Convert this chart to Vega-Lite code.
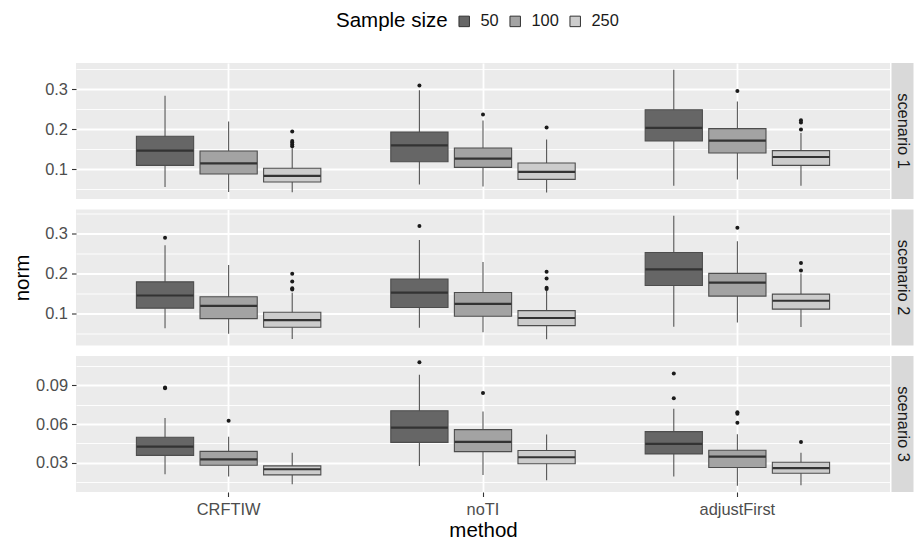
{
  "$schema": "https://vega.github.io/schema/vega-lite/v6.json",
  "padding": {"left": 12, "right": 0, "top": 13, "bottom": 0},
  "datasets": {
    "boxes": [
      {"scenario": "scenario 1", "method": "CRFTIW", "size": "50", "lo": 0.055, "q1": 0.109, "med": 0.146, "q3": 0.182, "hi": 0.283},
      {"scenario": "scenario 1", "method": "CRFTIW", "size": "100", "lo": 0.0425, "q1": 0.0875, "med": 0.114, "q3": 0.145, "hi": 0.219},
      {"scenario": "scenario 1", "method": "CRFTIW", "size": "250", "lo": 0.042, "q1": 0.0675, "med": 0.083, "q3": 0.102, "hi": 0.152},
      {"scenario": "scenario 1", "method": "noTI", "size": "50", "lo": 0.061, "q1": 0.118, "med": 0.159, "q3": 0.1925, "hi": 0.297},
      {"scenario": "scenario 1", "method": "noTI", "size": "100", "lo": 0.056, "q1": 0.104, "med": 0.126, "q3": 0.1525, "hi": 0.221},
      {"scenario": "scenario 1", "method": "noTI", "size": "250", "lo": 0.041, "q1": 0.074, "med": 0.093, "q3": 0.115, "hi": 0.174},
      {"scenario": "scenario 1", "method": "adjustFirst", "size": "50", "lo": 0.058, "q1": 0.17, "med": 0.203, "q3": 0.248, "hi": 0.348},
      {"scenario": "scenario 1", "method": "adjustFirst", "size": "100", "lo": 0.074, "q1": 0.14, "med": 0.171, "q3": 0.201, "hi": 0.269},
      {"scenario": "scenario 1", "method": "adjustFirst", "size": "250", "lo": 0.058, "q1": 0.109, "med": 0.13, "q3": 0.146, "hi": 0.19},
      {"scenario": "scenario 2", "method": "CRFTIW", "size": "50", "lo": 0.0635, "q1": 0.1135, "med": 0.145, "q3": 0.179, "hi": 0.27},
      {"scenario": "scenario 2", "method": "CRFTIW", "size": "100", "lo": 0.05, "q1": 0.0875, "med": 0.119, "q3": 0.142, "hi": 0.221},
      {"scenario": "scenario 2", "method": "CRFTIW", "size": "250", "lo": 0.037, "q1": 0.066, "med": 0.0835, "q3": 0.1035, "hi": 0.152},
      {"scenario": "scenario 2", "method": "noTI", "size": "50", "lo": 0.065, "q1": 0.115, "med": 0.152, "q3": 0.186, "hi": 0.283},
      {"scenario": "scenario 2", "method": "noTI", "size": "100", "lo": 0.0535, "q1": 0.0935, "med": 0.124, "q3": 0.1525, "hi": 0.2285},
      {"scenario": "scenario 2", "method": "noTI", "size": "250", "lo": 0.036, "q1": 0.07, "med": 0.089, "q3": 0.1075, "hi": 0.157},
      {"scenario": "scenario 2", "method": "adjustFirst", "size": "50", "lo": 0.0675, "q1": 0.17, "med": 0.21, "q3": 0.252, "hi": 0.3435},
      {"scenario": "scenario 2", "method": "adjustFirst", "size": "100", "lo": 0.078, "q1": 0.1435, "med": 0.177, "q3": 0.2, "hi": 0.28},
      {"scenario": "scenario 2", "method": "adjustFirst", "size": "250", "lo": 0.0667, "q1": 0.111, "med": 0.132, "q3": 0.1485, "hi": 0.2},
      {"scenario": "scenario 3", "method": "CRFTIW", "size": "50", "lo": 0.021, "q1": 0.0357, "med": 0.0425, "q3": 0.0497, "hi": 0.0647},
      {"scenario": "scenario 3", "method": "CRFTIW", "size": "100", "lo": 0.0192, "q1": 0.028, "med": 0.0326, "q3": 0.0388, "hi": 0.0502},
      {"scenario": "scenario 3", "method": "CRFTIW", "size": "250", "lo": 0.0133, "q1": 0.0205, "med": 0.0249, "q3": 0.0275, "hi": 0.0378},
      {"scenario": "scenario 3", "method": "noTI", "size": "50", "lo": 0.0275, "q1": 0.0458, "med": 0.0572, "q3": 0.0704, "hi": 0.0983},
      {"scenario": "scenario 3", "method": "noTI", "size": "100", "lo": 0.0205, "q1": 0.0386, "med": 0.0461, "q3": 0.0557, "hi": 0.0698},
      {"scenario": "scenario 3", "method": "noTI", "size": "250", "lo": 0.0164, "q1": 0.0291, "med": 0.0342, "q3": 0.0394, "hi": 0.0518},
      {"scenario": "scenario 3", "method": "adjustFirst", "size": "50", "lo": 0.0192, "q1": 0.0368, "med": 0.0446, "q3": 0.0541, "hi": 0.0719},
      {"scenario": "scenario 3", "method": "adjustFirst", "size": "100", "lo": 0.012, "q1": 0.0262, "med": 0.0347, "q3": 0.0396, "hi": 0.052},
      {"scenario": "scenario 3", "method": "adjustFirst", "size": "250", "lo": 0.0125, "q1": 0.0218, "med": 0.0257, "q3": 0.0303, "hi": 0.0378}
    ],
    "outliers": [
      {"scenario": "scenario 1", "method": "CRFTIW", "size": "250", "value": 0.194},
      {"scenario": "scenario 1", "method": "CRFTIW", "size": "250", "value": 0.17},
      {"scenario": "scenario 1", "method": "CRFTIW", "size": "250", "value": 0.166},
      {"scenario": "scenario 1", "method": "CRFTIW", "size": "250", "value": 0.161},
      {"scenario": "scenario 1", "method": "CRFTIW", "size": "250", "value": 0.157},
      {"scenario": "scenario 1", "method": "noTI", "size": "50", "value": 0.309},
      {"scenario": "scenario 1", "method": "noTI", "size": "100", "value": 0.236},
      {"scenario": "scenario 1", "method": "noTI", "size": "250", "value": 0.204},
      {"scenario": "scenario 1", "method": "adjustFirst", "size": "100", "value": 0.295},
      {"scenario": "scenario 1", "method": "adjustFirst", "size": "250", "value": 0.222},
      {"scenario": "scenario 1", "method": "adjustFirst", "size": "250", "value": 0.216},
      {"scenario": "scenario 1", "method": "adjustFirst", "size": "250", "value": 0.199},
      {"scenario": "scenario 2", "method": "CRFTIW", "size": "50", "value": 0.289},
      {"scenario": "scenario 2", "method": "CRFTIW", "size": "250", "value": 0.199},
      {"scenario": "scenario 2", "method": "CRFTIW", "size": "250", "value": 0.18},
      {"scenario": "scenario 2", "method": "CRFTIW", "size": "250", "value": 0.163},
      {"scenario": "scenario 2", "method": "CRFTIW", "size": "250", "value": 0.16},
      {"scenario": "scenario 2", "method": "noTI", "size": "50", "value": 0.318},
      {"scenario": "scenario 2", "method": "noTI", "size": "250", "value": 0.204},
      {"scenario": "scenario 2", "method": "noTI", "size": "250", "value": 0.1875},
      {"scenario": "scenario 2", "method": "noTI", "size": "250", "value": 0.164},
      {"scenario": "scenario 2", "method": "noTI", "size": "250", "value": 0.161},
      {"scenario": "scenario 2", "method": "adjustFirst", "size": "100", "value": 0.3135},
      {"scenario": "scenario 2", "method": "adjustFirst", "size": "250", "value": 0.226},
      {"scenario": "scenario 2", "method": "adjustFirst", "size": "250", "value": 0.2075},
      {"scenario": "scenario 3", "method": "CRFTIW", "size": "50", "value": 0.0885},
      {"scenario": "scenario 3", "method": "CRFTIW", "size": "50", "value": 0.0878},
      {"scenario": "scenario 3", "method": "CRFTIW", "size": "100", "value": 0.0626},
      {"scenario": "scenario 3", "method": "noTI", "size": "50", "value": 0.1081},
      {"scenario": "scenario 3", "method": "noTI", "size": "100", "value": 0.0841},
      {"scenario": "scenario 3", "method": "adjustFirst", "size": "50", "value": 0.0993},
      {"scenario": "scenario 3", "method": "adjustFirst", "size": "50", "value": 0.08},
      {"scenario": "scenario 3", "method": "adjustFirst", "size": "100", "value": 0.0691},
      {"scenario": "scenario 3", "method": "adjustFirst", "size": "100", "value": 0.068},
      {"scenario": "scenario 3", "method": "adjustFirst", "size": "100", "value": 0.0611},
      {"scenario": "scenario 3", "method": "adjustFirst", "size": "250", "value": 0.0461}
    ],
    "strips": [
      {"scenario": "scenario 1"},
      {"scenario": "scenario 2"},
      {"scenario": "scenario 3"}
    ]
  },
  "columns": 2,
  "spacing": {"row": 10.5, "column": 1.5},
  "concat": [
    {
      "width": 814, "height": 136,
      "view": {"fill": "#EBEBEB", "stroke": null},
      "resolve": {"axis": {"y": "independent"}},
      "layer": [
        {
          "data": {"name": "boxes"},
          "transform": [{"filter": "datum.scenario === 'scenario 1'"}],
          "mark": {"type": "rule", "color": "#555555", "strokeWidth": 1.1},
          "encoding": {
            "x": {"field": "method", "type": "nominal", "scale": {"type": "band", "domain": ["CRFTIW", "noTI", "adjustFirst"], "paddingInner": 0.25, "paddingOuter": 0.225},
                  "axis": {"grid": true, "gridWidth": 1.8, "labels": false, "ticks": false, "title": null, "bandPosition": 0.5}},
            "xOffset": {"field": "size", "type": "nominal", "scale": {"domain": ["50", "100", "250"], "paddingInner": 0.1, "paddingOuter": 0.05}},
            "y": {"field": "lo", "type": "quantitative", "scale": {"domain": [0.025, 0.365], "nice": false, "zero": false},
                  "axis": {"orient": "left", "values": [0.05, 0.15, 0.25, 0.35], "grid": true, "gridWidth": 0.9, "labels": false, "ticks": false, "title": null}},
            "y2": {"field": "hi"}
          }
        },
        {
          "data": {"name": "boxes"},
          "transform": [{"filter": "datum.scenario === 'scenario 1'"}],
          "mark": {"type": "bar", "stroke": "#4D4D4D", "strokeWidth": 1.1, "opacity": 1},
          "encoding": {
            "x": {"field": "method", "type": "nominal"},
            "xOffset": {"field": "size", "type": "nominal"},
            "y": {"field": "q1", "type": "quantitative",
                  "axis": {"orient": "left", "values": [0.1, 0.2, 0.3], "format": ".1f", "grid": true, "gridWidth": 1.8, "title": null}},
            "y2": {"field": "q3"},
            "color": {"field": "size", "type": "nominal", "title": "Sample size", "scale": {"domain": ["50", "100", "250"], "range": ["#666666", "#A3A3A3", "#CCCCCC"]}}
          }
        },
        {
          "data": {"name": "boxes"},
          "transform": [{"filter": "datum.scenario === 'scenario 1'"}],
          "mark": {"type": "tick", "color": "#333333", "thickness": 2.2, "size": 57, "opacity": 1},
          "encoding": {
            "x": {"field": "method", "type": "nominal"},
            "xOffset": {"field": "size", "type": "nominal"},
            "y": {"field": "med", "type": "quantitative", "axis": null}
          }
        },
        {
          "data": {"name": "outliers"},
          "transform": [{"filter": "datum.scenario === 'scenario 1'"}],
          "mark": {"type": "circle", "size": 16, "color": "#1A1A1A", "opacity": 1},
          "encoding": {
            "x": {"field": "method", "type": "nominal"},
            "xOffset": {"field": "size", "type": "nominal"},
            "y": {"field": "value", "type": "quantitative", "axis": null}
          }
        }
      ]
    },
    {
      "width": 22, "height": 136,
      "view": {"fill": "#D9D9D9", "stroke": null},
      "data": {"name": "strips"},
      "transform": [{"filter": "datum.scenario === 'scenario 1'"}],
      "mark": {"type": "text", "angle": 90, "fontSize": 16.4, "color": "#1A1A1A", "align": "center", "baseline": "middle"},
      "encoding": {"text": {"field": "scenario"}}
    },
    {
      "width": 814, "height": 136,
      "view": {"fill": "#EBEBEB", "stroke": null},
      "resolve": {"axis": {"y": "independent"}},
      "layer": [
        {
          "data": {"name": "boxes"},
          "transform": [{"filter": "datum.scenario === 'scenario 2'"}],
          "mark": {"type": "rule", "color": "#555555", "strokeWidth": 1.1},
          "encoding": {
            "x": {"field": "method", "type": "nominal", "scale": {"type": "band", "domain": ["CRFTIW", "noTI", "adjustFirst"], "paddingInner": 0.25, "paddingOuter": 0.225},
                  "axis": {"grid": true, "gridWidth": 1.8, "labels": false, "ticks": false, "title": null, "bandPosition": 0.5}},
            "xOffset": {"field": "size", "type": "nominal", "scale": {"domain": ["50", "100", "250"], "paddingInner": 0.1, "paddingOuter": 0.05}},
            "y": {"field": "lo", "type": "quantitative", "scale": {"domain": [0.0206, 0.359], "nice": false, "zero": false},
                  "axis": {"orient": "left", "values": [0.05, 0.15, 0.25, 0.35], "grid": true, "gridWidth": 0.9, "labels": false, "ticks": false, "title": null}},
            "y2": {"field": "hi"}
          }
        },
        {
          "data": {"name": "boxes"},
          "transform": [{"filter": "datum.scenario === 'scenario 2'"}],
          "mark": {"type": "bar", "stroke": "#4D4D4D", "strokeWidth": 1.1, "opacity": 1},
          "encoding": {
            "x": {"field": "method", "type": "nominal"},
            "xOffset": {"field": "size", "type": "nominal"},
            "y": {"field": "q1", "type": "quantitative",
                  "axis": {"orient": "left", "values": [0.1, 0.2, 0.3], "format": ".1f", "grid": true, "gridWidth": 1.8, "title": "norm", "titlePadding": 12}},
            "y2": {"field": "q3"},
            "color": {"field": "size", "type": "nominal", "title": "Sample size", "scale": {"domain": ["50", "100", "250"], "range": ["#666666", "#A3A3A3", "#CCCCCC"]}}
          }
        },
        {
          "data": {"name": "boxes"},
          "transform": [{"filter": "datum.scenario === 'scenario 2'"}],
          "mark": {"type": "tick", "color": "#333333", "thickness": 2.2, "size": 57, "opacity": 1},
          "encoding": {
            "x": {"field": "method", "type": "nominal"},
            "xOffset": {"field": "size", "type": "nominal"},
            "y": {"field": "med", "type": "quantitative", "axis": null}
          }
        },
        {
          "data": {"name": "outliers"},
          "transform": [{"filter": "datum.scenario === 'scenario 2'"}],
          "mark": {"type": "circle", "size": 16, "color": "#1A1A1A", "opacity": 1},
          "encoding": {
            "x": {"field": "method", "type": "nominal"},
            "xOffset": {"field": "size", "type": "nominal"},
            "y": {"field": "value", "type": "quantitative", "axis": null}
          }
        }
      ]
    },
    {
      "width": 22, "height": 136,
      "view": {"fill": "#D9D9D9", "stroke": null},
      "data": {"name": "strips"},
      "transform": [{"filter": "datum.scenario === 'scenario 2'"}],
      "mark": {"type": "text", "angle": 90, "fontSize": 16.4, "color": "#1A1A1A", "align": "center", "baseline": "middle"},
      "encoding": {"text": {"field": "scenario"}}
    },
    {
      "width": 814, "height": 136,
      "view": {"fill": "#EBEBEB", "stroke": null},
      "resolve": {"axis": {"y": "independent"}},
      "layer": [
        {
          "data": {"name": "boxes"},
          "transform": [{"filter": "datum.scenario === 'scenario 3'"}],
          "mark": {"type": "rule", "color": "#555555", "strokeWidth": 1.1},
          "encoding": {
            "x": {"field": "method", "type": "nominal", "scale": {"type": "band", "domain": ["CRFTIW", "noTI", "adjustFirst"], "paddingInner": 0.25, "paddingOuter": 0.225},
                  "axis": {"grid": true, "gridWidth": 1.8, "labelAngle": 0, "title": "method", "bandPosition": 0.5, "labelPadding": 5, "titlePadding": 3}},
            "xOffset": {"field": "size", "type": "nominal", "scale": {"domain": ["50", "100", "250"], "paddingInner": 0.1, "paddingOuter": 0.05}},
            "y": {"field": "lo", "type": "quantitative", "scale": {"domain": [0.0072, 0.1129], "nice": false, "zero": false},
                  "axis": {"orient": "left", "values": [0.015, 0.045, 0.075, 0.105], "grid": true, "gridWidth": 0.9, "labels": false, "ticks": false, "title": null}},
            "y2": {"field": "hi"}
          }
        },
        {
          "data": {"name": "boxes"},
          "transform": [{"filter": "datum.scenario === 'scenario 3'"}],
          "mark": {"type": "bar", "stroke": "#4D4D4D", "strokeWidth": 1.1, "opacity": 1},
          "encoding": {
            "x": {"field": "method", "type": "nominal"},
            "xOffset": {"field": "size", "type": "nominal"},
            "y": {"field": "q1", "type": "quantitative",
                  "axis": {"orient": "left", "values": [0.03, 0.06, 0.09], "format": ".2f", "grid": true, "gridWidth": 1.8, "title": null}},
            "y2": {"field": "q3"},
            "color": {"field": "size", "type": "nominal", "title": "Sample size", "scale": {"domain": ["50", "100", "250"], "range": ["#666666", "#A3A3A3", "#CCCCCC"]}}
          }
        },
        {
          "data": {"name": "boxes"},
          "transform": [{"filter": "datum.scenario === 'scenario 3'"}],
          "mark": {"type": "tick", "color": "#333333", "thickness": 2.2, "size": 57, "opacity": 1},
          "encoding": {
            "x": {"field": "method", "type": "nominal"},
            "xOffset": {"field": "size", "type": "nominal"},
            "y": {"field": "med", "type": "quantitative", "axis": null}
          }
        },
        {
          "data": {"name": "outliers"},
          "transform": [{"filter": "datum.scenario === 'scenario 3'"}],
          "mark": {"type": "circle", "size": 16, "color": "#1A1A1A", "opacity": 1},
          "encoding": {
            "x": {"field": "method", "type": "nominal"},
            "xOffset": {"field": "size", "type": "nominal"},
            "y": {"field": "value", "type": "quantitative", "axis": null}
          }
        }
      ]
    },
    {
      "width": 22, "height": 136,
      "view": {"fill": "#D9D9D9", "stroke": null},
      "data": {"name": "strips"},
      "transform": [{"filter": "datum.scenario === 'scenario 3'"}],
      "mark": {"type": "text", "angle": 90, "fontSize": 16.4, "color": "#1A1A1A", "align": "center", "baseline": "middle"},
      "encoding": {"text": {"field": "scenario"}}
    }
  ],
  "config": {
    "font": "Liberation Sans",
    "view": {"stroke": null},
    "axis": {
      "labelFont": "Liberation Sans", "labelFontSize": 16.4, "labelColor": "#4D4D4D",
      "tickColor": "#333333", "tickSize": 4.5, "tickWidth": 1.1, "labelPadding": 4,
      "titleFont": "Liberation Sans", "titleFontSize": 20.5, "titleFontWeight": "normal", "titleColor": "#000000",
      "domain": false, "gridColor": "#FFFFFF", "gridOpacity": 1
    },
    "legend": {
      "orient": "none", "direction": "horizontal", "titleOrient": "left",
      "legendX": 260, "legendY": -50,
      "symbolType": "square", "symbolSize": 110, "symbolStrokeColor": "#333333", "symbolStrokeWidth": 1,
      "labelFont": "Liberation Sans", "labelFontSize": 16.4, "labelColor": "#1A1A1A",
      "titleFont": "Liberation Sans", "titleFontSize": 20.5, "titleFontWeight": "normal", "titleColor": "#000000",
      "columnPadding": 8, "labelOffset": 8, "titlePadding": 8
    }
  }
}
